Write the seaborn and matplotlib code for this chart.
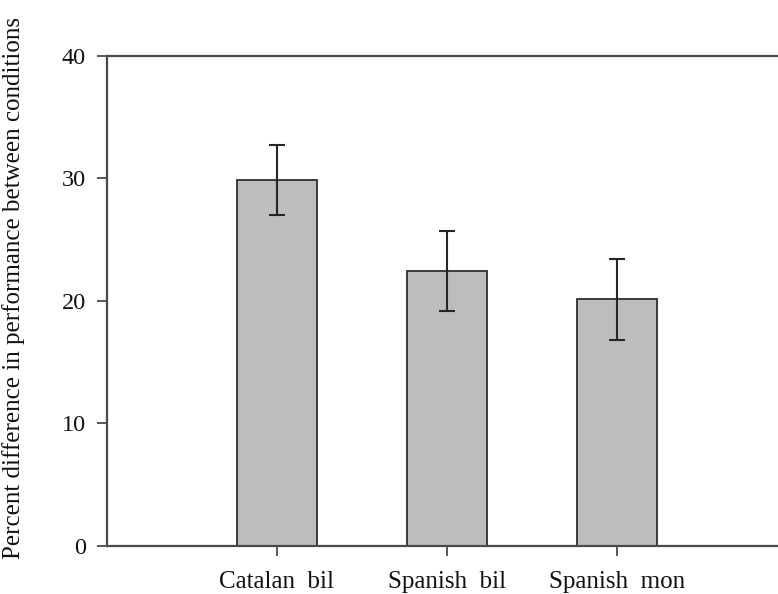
import matplotlib
matplotlib.use("Agg")
import matplotlib.pyplot as plt
import seaborn as sns
import pandas as pd

groups = ["Catalan  bil", "Spanish  bil", "Spanish  mon"]
means = [29.85, 22.42, 20.11]
errors = [2.83, 3.27, 3.30]
yticks = [0, 10, 20, 30, 40]

sns.set_theme(style="white")
plt.rcParams["font.family"] = ["Liberation Serif", "DejaVu Serif"]

df = pd.DataFrame({"group": groups, "value": means})

fig = plt.figure(figsize=(7.78, 5.94), dpi=100)
ax = fig.add_axes([106.7 / 778, 48.3 / 594, 680 / 778, 490 / 594])

spine_col = "#4a4a4a"
sns.barplot(data=df, x="group", y="value", ax=ax, color="#bdbdbd",
            saturation=1, width=0.47, edgecolor="#2e2e2e", linewidth=1.3,
            errorbar=None)
ax.errorbar(range(len(groups)), means, yerr=errors, fmt="none",
            ecolor="#262626", elinewidth=1.5, capsize=5.5, capthick=1.5)

ax.set_xlim(-1, 3)
ax.set_ylim(0, 40)
ax.set_yticks(yticks)
ax.set_xlabel("")
ax.set_ylabel("Percent difference in performance between conditions",
              fontsize=18, color="#111111")
ax.yaxis.set_label_coords(-0.1195, 0.526)

for side in ["left", "bottom", "top"]:
    ax.spines[side].set_visible(True)
    ax.spines[side].set_color(spine_col)
    ax.spines[side].set_linewidth(1.6)
ax.spines["right"].set_visible(False)

ax.tick_params(axis="both", direction="out", length=7, width=1.3,
               color=spine_col, labelsize=17.5, labelcolor="#111111")
ax.tick_params(axis="x", labelsize=18)
ax.tick_params(axis="y", left=True, pad=8)
ax.tick_params(axis="x", bottom=True, pad=11.5)

fig.savefig("out.png", dpi=100)
